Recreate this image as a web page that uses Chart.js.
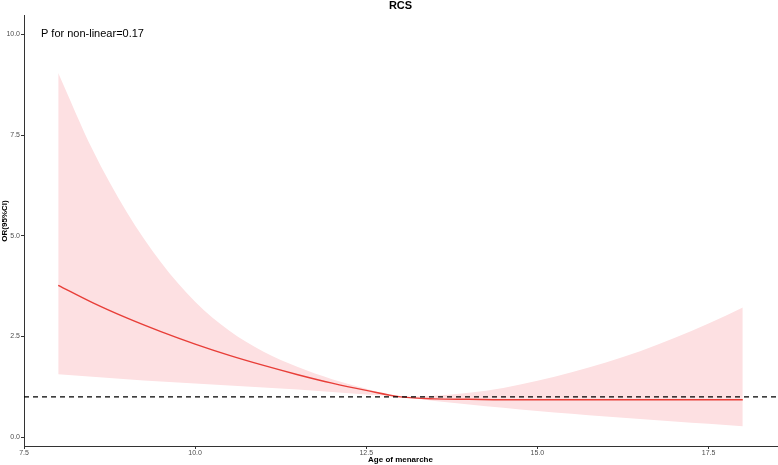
<!DOCTYPE html>
<html>
<head>
<meta charset="utf-8">
<script src="https://cdn.jsdelivr.net/npm/chart.js@4.4.0/dist/chart.umd.min.js"></script>
<style>
  html, body { margin: 0; padding: 0; background: #ffffff; }
  #wrap { width: 778px; height: 465px; }
</style>
</head>
<body>
<div id="wrap"><canvas id="c" width="778" height="465"></canvas></div>
<script>
// ---- data ----
const ages      = [8, 8.5, 9, 9.5, 10, 10.5, 11, 11.5, 12, 12.5, 13, 13.5, 14, 14.5, 15, 15.5, 16, 16.5, 17, 17.5, 18];
const orValues  = [3.77, 3.34, 2.96, 2.62, 2.31, 2.03, 1.78, 1.55, 1.34, 1.16, 1.00, 0.95, 0.94, 0.93, 0.93, 0.93, 0.93, 0.93, 0.93, 0.93, 0.93];
const lowerCI   = [1.56, 1.50, 1.44, 1.38, 1.33, 1.28, 1.23, 1.18, 1.12, 1.06, 1.00, 0.90, 0.81, 0.73, 0.65, 0.58, 0.51, 0.45, 0.39, 0.33, 0.27];
const upperCI   = [9.04, 7.14, 5.59, 4.34, 3.36, 2.64, 2.12, 1.74, 1.44, 1.20, 1.00, 1.03, 1.10, 1.22, 1.40, 1.61, 1.85, 2.13, 2.46, 2.82, 3.22];
const refLineX  = [7.5, 18.5];
const refLineY  = 1;
const xRange    = [7.5, 18.5];
const yRange    = [-0.22, 10.48];
const tickStep  = 2.5;
const chartTitle = 'RCS';
const xTitle = 'Age of menarche';
const yTitle = 'OR(95%CI)';
const annotationText = 'P for non-linear=0.17';
const annotationPos = { x: 8.5, y: 10 };

const toPts = (ys) => ages.map((a, i) => ({ x: a, y: ys[i] }));
const FONT = "'Liberation Sans', Arial, sans-serif";

const textPlugin = {
  id: 'texts',
  afterDraw(chart) {
    const { ctx, scales, chartArea } = chart;
    ctx.save();
    ctx.font = '11px ' + FONT;
    ctx.fillStyle = '#000000';
    ctx.textAlign = 'center';
    ctx.textBaseline = 'middle';
    ctx.fillText(annotationText, scales.x.getPixelForValue(annotationPos.x), scales.y.getPixelForValue(annotationPos.y));
    ctx.font = 'bold 11px ' + FONT;
    ctx.fillText(chartTitle, (chartArea.left + chartArea.right) / 2, 5.5);
    ctx.font = 'bold 8px ' + FONT;
    ctx.translate(5, 221);
    ctx.rotate(-Math.PI / 2);
    ctx.fillText(yTitle, 0, 0);
    ctx.restore();
  }
};

new Chart(document.getElementById('c'), {
  type: 'line',
  data: {
    datasets: [
      {
        label: 'lower',
        data: toPts(lowerCI),
        borderWidth: 0,
        borderColor: 'rgba(0,0,0,0)',
        pointRadius: 0,
        fill: false,
        order: 2,
        cubicInterpolationMode: 'monotone'
      },
      {
        label: 'upper',
        data: toPts(upperCI),
        borderWidth: 0,
        borderColor: 'rgba(0,0,0,0)',
        backgroundColor: 'rgb(253,224,226)',
        pointRadius: 0,
        fill: '-1',
        order: 2,
        cubicInterpolationMode: 'monotone'
      },
      {
        label: 'OR',
        data: toPts(orValues),
        borderColor: 'rgb(232,62,56)',
        borderWidth: 1.4,
        pointRadius: 0,
        fill: false,
        order: 1,
        cubicInterpolationMode: 'monotone'
      },
      {
        label: 'ref',
        data: refLineX.map(x => ({ x: x, y: refLineY })),
        borderColor: '#000000',
        borderWidth: 1.3,
        borderDash: [5, 4],
        pointRadius: 0,
        fill: false,
        order: 0
      }
    ]
  },
  options: {
    responsive: false,
    animation: false,
    devicePixelRatio: 1,
    layout: { padding: { left: 0, right: 1, top: 15, bottom: 0 } },
    plugins: {
      legend: { display: false },
      tooltip: { enabled: false },
      title: { display: false }
    },
    scales: {
      x: {
        type: 'linear',
        min: xRange[0],
        max: xRange[1],
        afterFit(scale) { scale.height = 19; },
        border: { display: true, color: '#333333', width: 1 },
        grid: { display: true, drawOnChartArea: false, drawTicks: true, tickLength: 3, color: '#333333' },
        ticks: {
          stepSize: tickStep,
          includeBounds: false,
          padding: 0,
          color: '#4d4d4d',
          font: { family: FONT, size: 7 },
          maxRotation: 0,
          callback: (v) => Number(v).toFixed(1)
        },
        title: {
          display: true,
          text: xTitle,
          color: '#000000',
          font: { family: FONT, size: 8, weight: 'bold', lineHeight: 1.2 },
          padding: { top: 0, bottom: 0 }
        }
      },
      y: {
        type: 'linear',
        min: yRange[0],
        max: yRange[1],
        afterFit(scale) { scale.width = 24; },
        border: { display: true, color: '#333333', width: 1 },
        grid: { display: true, drawOnChartArea: false, drawTicks: true, tickLength: 3, color: '#333333' },
        ticks: {
          stepSize: tickStep,
          includeBounds: false,
          padding: 1,
          color: '#4d4d4d',
          font: { family: FONT, size: 7 },
          callback: (v) => Number(v).toFixed(1)
        },
        title: { display: false }
      }
    }
  },
  plugins: [textPlugin]
});
</script>
</body>
</html>
